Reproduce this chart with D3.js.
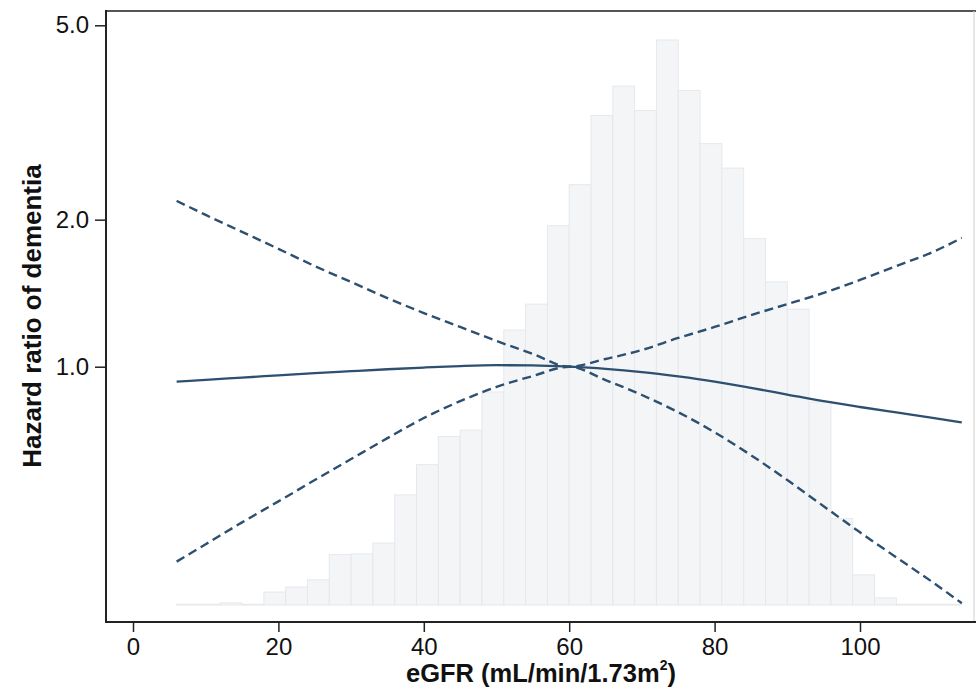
<!DOCTYPE html>
<html>
<head>
<meta charset="utf-8">
<script src="https://cdn.jsdelivr.net/npm/d3@7"></script>
<style>
  html, body { margin: 0; padding: 0; background: #fff; }
  svg { display: block; font-family: "Liberation Sans", Arial, sans-serif; }
</style>
</head>
<body>
<svg id="chart" width="976" height="694"></svg>
<script>
// ---- data ----
// histogram of eGFR (bin start, width 3), percent of participants
const binStarts = [6, 9, 12, 15, 18, 21, 24, 27, 30, 33, 36, 39, 42, 45, 48, 51, 54, 57,
                   60, 63, 66, 69, 72, 75, 78, 81, 84, 87, 90, 93, 96, 99, 102, 105, 108, 111];
const binPct = [0.01, 0.01, 0.03, 0.01, 0.18, 0.25, 0.35, 0.70, 0.71, 0.86, 1.53, 1.95, 2.34, 2.43,
                2.96, 3.82, 4.18, 5.27, 5.84, 6.80, 7.21, 6.87, 7.85, 7.15, 6.41, 6.07, 5.09, 4.49,
                4.11, 2.82, 1.20, 0.42, 0.10, 0.01, 0.01, 0.01];
const binWidth = 3;

// restricted cubic spline: hazard ratio and 95% CI
const egfr  = [6, 10, 15, 20, 25, 30, 35, 40, 45, 50, 55, 60, 65, 70, 75, 80, 85, 90, 95, 100, 105, 110, 114];
const hr    = [0.932, 0.940, 0.950, 0.960, 0.970, 0.979, 0.988, 0.996, 1.003, 1.007, 1.006, 1.000,
               0.990, 0.975, 0.955, 0.932, 0.905, 0.877, 0.850, 0.827, 0.806, 0.786, 0.769];
const upper = [2.185, 2.045, 1.888, 1.743, 1.607, 1.491, 1.382, 1.288, 1.206, 1.129, 1.062, 1.000,
               1.037, 1.082, 1.145, 1.206, 1.275, 1.343, 1.416, 1.505, 1.607, 1.717, 1.835];
const lower = [0.399, 0.433, 0.480, 0.530, 0.586, 0.647, 0.714, 0.785, 0.850, 0.909, 0.957, 1.000,
               0.939, 0.875, 0.807, 0.734, 0.659, 0.586, 0.518, 0.458, 0.407, 0.362, 0.328];

const xTicks = [0, 20, 40, 60, 80, 100];
const yTicks = [1.0, 2.0, 5.0];
const xTitle = "eGFR (mL/min/1.73m";
const yTitle = "Hazard ratio of dementia";

// ---- layout ----
const plotL = 106, plotR = 974, plotT = 11, plotB = 622;
const lineColor = "#2d4f70";

const svg = d3.select("#chart");

const x = d3.scaleLinear().domain([0, 100]).range([133, 860]);
const y = d3.scaleLog().domain([1, 5]).range([366.7, 25.3]);
const yh = d3.scaleLinear().domain([0, 7.85]).range([605, 40]);

// histogram
svg.append("g").selectAll("rect")
  .data(binStarts.map((s, i) => ({ s, v: binPct[i] })))
  .join("rect")
  .attr("x", d => x(d.s))
  .attr("width", d => x(d.s + binWidth) - x(d.s))
  .attr("y", d => yh(d.v))
  .attr("height", d => yh(0) - yh(d.v))
  .attr("fill", "#f4f5f7")
  .attr("stroke", "#e6e8ec")
  .attr("stroke-width", 1);

// curves
const line = d3.line().x(d => x(d[0])).y(d => y(d[1])).curve(d3.curveMonotoneX);
const seg = arr => egfr.map((e, i) => [e, arr[i]]);

svg.append("path").datum(seg(upper)).attr("d", line)
  .attr("fill", "none").attr("stroke", lineColor).attr("stroke-width", 2.4)
  .attr("stroke-dasharray", "9,5");
svg.append("path").datum(seg(lower)).attr("d", line)
  .attr("fill", "none").attr("stroke", lineColor).attr("stroke-width", 2.4)
  .attr("stroke-dasharray", "9,5");
svg.append("path").datum(seg(hr)).attr("d", line)
  .attr("fill", "none").attr("stroke", lineColor).attr("stroke-width", 2.3);

// frame: top and right
svg.append("line").attr("x1", plotL).attr("x2", 976).attr("y1", plotT).attr("y2", plotT)
  .attr("stroke", "#555").attr("stroke-width", 2);
svg.append("line").attr("x1", plotR).attr("x2", plotR).attr("y1", plotT).attr("y2", plotB)
  .attr("stroke", "#cfcfcf").attr("stroke-width", 1);

// axes
const xAxis = d3.axisBottom(x).tickValues(xTicks).tickSize(10).tickPadding(6)
  .tickFormat(d3.format("d"));
const gx = svg.append("g").attr("transform", `translate(0,${plotB})`).call(xAxis);
gx.select(".domain").remove();
gx.append("line").attr("x1", plotL).attr("x2", 976).attr("stroke", "#222").attr("stroke-width", 2);
gx.selectAll(".tick line").attr("stroke", "#222").attr("stroke-width", 1.5);
gx.selectAll(".tick text").attr("fill", "#111").attr("font-size", 24)
  .attr("font-family", "Liberation Sans, Arial, sans-serif");

const yAxis = d3.axisLeft(y).tickValues(yTicks).tickSize(11).tickPadding(6)
  .tickFormat(d3.format(".1f"));
const gy = svg.append("g").attr("transform", `translate(${plotL},0)`).call(yAxis);
gy.select(".domain").remove();
gy.append("line").attr("y1", plotT - 1).attr("y2", plotB + 1).attr("stroke", "#222").attr("stroke-width", 2);
gy.selectAll(".tick line").attr("stroke", "#222").attr("stroke-width", 1.5);
gy.selectAll(".tick text").attr("fill", "#111").attr("font-size", 24)
  .attr("font-family", "Liberation Sans, Arial, sans-serif");

// titles
const xt = svg.append("text")
  .attr("x", 541).attr("y", 682)
  .attr("text-anchor", "middle")
  .attr("font-size", 25.5).attr("font-weight", "bold").attr("fill", "#111");
xt.append("tspan").text(xTitle);
xt.append("tspan").attr("font-size", 14).attr("dy", -12).text("2");
xt.append("tspan").attr("dy", 12).text(")");

svg.append("text")
  .attr("transform", "translate(41,316) rotate(-90)")
  .attr("text-anchor", "middle")
  .attr("font-size", 26).attr("font-weight", "bold").attr("fill", "#111")
  .text(yTitle);
</script>
</body>
</html>
